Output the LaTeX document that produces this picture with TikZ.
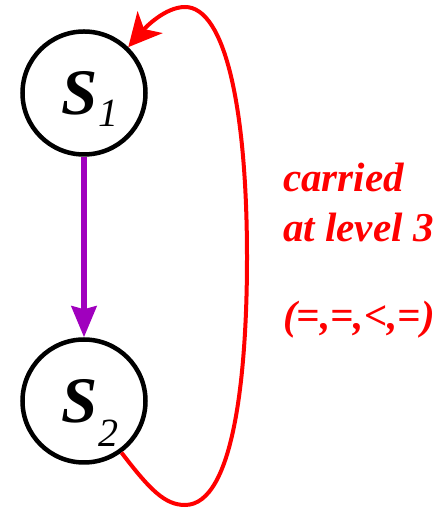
\documentclass[tikz,border=0pt]{standalone}
\usepackage{fontspec}
\setmainfont{Liberation Serif}
\usetikzlibrary{arrows.meta}
\definecolor{arcpurple}{RGB}{160,0,190}
\definecolor{arcred}{RGB}{255,0,0}
\begin{document}
\begin{tikzpicture}[x=1pt,y=1pt,
  state/.style={circle,draw=black,line width=4.5pt,minimum size=123pt,inner sep=0pt},
  lab/.style={text=arcred,font=\fontsize{41}{50}\selectfont\bfseries\itshape,anchor=base west,inner sep=0pt}]
\useasboundingbox (0,0) rectangle (440,508);
\node[state] (s1) at (84,415) {};
\node[state] (s2) at (84,107) {};
\node[anchor=base west,inner sep=0pt] (t1) at (61,393) {\fontsize{65}{65}\selectfont\bfseries\itshape S\hspace{1pt}\raisebox{-12pt}{\fontsize{40}{40}\selectfont\mdseries\itshape 1}};
\node[anchor=base west,inner sep=0pt] (t2) at (61,85) {\fontsize{65}{65}\selectfont\bfseries\itshape S\hspace{1pt}\raisebox{-24pt}{\fontsize{40}{40}\selectfont\mdseries\itshape 2}};
\draw[arcpurple,line width=5.5pt,-{Stealth[length=31pt,width=25pt,inset=3pt]}] (s1.south) -- (s2.north);
\draw[arcred,line width=4pt,-{Stealth[length=33pt,width=33pt,inset=9pt]}]
  (s2.-54) .. controls (150,18) and (165,3) .. (185,3)
  .. controls (235,3) and (247,140) .. (247,250)
  .. controls (247,400) and (225,501) .. (185,501)
  .. controls (165,501) and (145,480) .. (s1.46);
\node[lab] (l1) at (283,316) {carried};
\node[lab] (l2) at (283,266) {at level 3};
\node[lab] (l3) at (283,178) {(=,=,<,=)};
\end{tikzpicture}
\end{document}
